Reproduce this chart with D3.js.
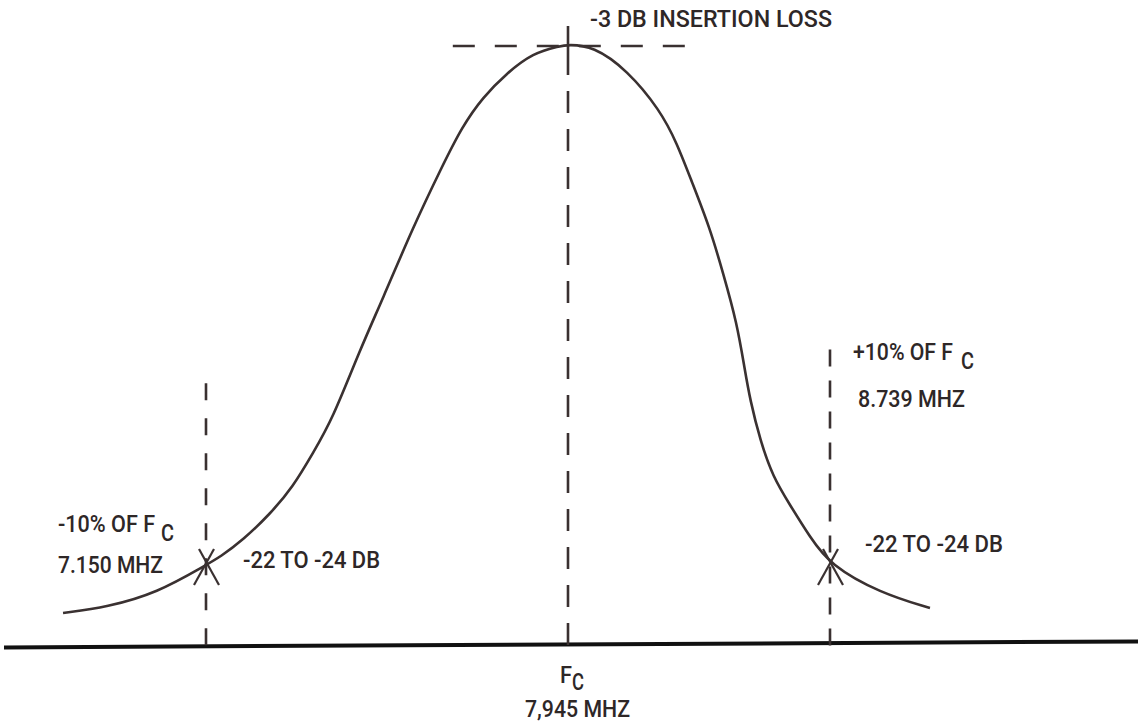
<!DOCTYPE html>
<html>
<head>
<meta charset="utf-8">
<script src="https://cdn.jsdelivr.net/npm/d3@7"></script>
<style>
  html, body { margin: 0; padding: 0; background: #fff; }
  svg text { font-family: Roboto, "DejaVu Sans Condensed", sans-serif; font-weight: 500; fill: #2e2727; }
</style>
</head>
<body>
<div id="graf"></div>
<script>
// frecuencias de referencia (MHz): -10%, Fc, +10%
const marcasFreq = [7.150, 7.945, 8.739]
const picoDb = -3
const bordeDb = -23   // entre -22 y -24 dB
const baseDb = -26.1

// curva de respuesta
const curvaFreq = [6.836, 6.933, 7.042, 7.150, 7.181, 7.231, 7.291, 7.341, 7.385, 7.427, 7.488, 7.537, 7.605, 7.668, 7.712, 7.758, 7.811, 7.868, 7.927, 7.945,
  8.021, 8.124, 8.224, 8.275, 8.318, 8.375, 8.415, 8.457, 8.481, 8.497, 8.527, 8.566, 8.618, 8.678, 8.739, 8.891, 9.042]
const curvaDb = [-24.85, -24.62, -24.08, -23.0, -22.69, -22.04, -21.03, -19.99, -18.68, -17.41, -14.71, -12.79, -9.97, -7.66, -6.12, -4.97, -4.04, -3.27, -3.0, -2.95,
  -3.0, -3.92, -5.47, -6.74, -8.16, -10.01, -11.75, -13.67, -15.49, -16.64, -18.18, -19.61, -20.69, -21.92, -23.0, -24.08, -24.66]

// altura donde empieza cada guia vertical (dB)
const guiaTopDb = [-16.0, -3.27, -14.7]
const insercionFreq = [7.692, 8.300]

const width = 1138, height = 726

const svg = d3.select("#graf").append("svg")
  .attr("width", width)
  .attr("height", height)

const x = d3.scaleLinear().domain(marcasFreq).range([206, 568, 830])
const y = d3.scaleLinear().domain([picoDb, bordeDb]).range([46, 565])

const tinta = "#3a3131"
const yBase = y(baseDb)

// eje horizontal
svg.append("line")
  .attr("x1", 4).attr("x2", width)
  .attr("y1", yBase + 2).attr("y2", yBase - 4)
  .attr("stroke", "#111").attr("stroke-width", 4)

// guias verticales punteadas
const dashes = ["17,18", "22,16", "17,14"]
svg.selectAll("line.guia").data(marcasFreq).enter().append("line")
  .attr("class", "guia")
  .attr("x1", d => x(d)).attr("x2", d => x(d))
  .attr("y1", (d, i) => y(guiaTopDb[i]))
  .attr("y2", yBase)
  .attr("stroke", tinta).attr("stroke-width", 2.6)
  .attr("stroke-dasharray", (d, i) => dashes[i])

// tramo solido sobre el pico
svg.append("line")
  .attr("x1", x(marcasFreq[1])).attr("x2", x(marcasFreq[1]))
  .attr("y1", y(picoDb) - 20).attr("y2", y(guiaTopDb[1]))
  .attr("stroke", tinta).attr("stroke-width", 2.6)

// linea de perdida de insercion
svg.append("line")
  .attr("x1", x(insercionFreq[0])).attr("x2", x(insercionFreq[1]))
  .attr("y1", y(picoDb)).attr("y2", y(picoDb))
  .attr("stroke", tinta).attr("stroke-width", 2.6)
  .attr("stroke-dasharray", "22,20")

// curva
const linea = d3.line()
  .x((d, i) => x(curvaFreq[i]))
  .y(d => y(d))
  .curve(d3.curveBasis)

svg.append("path")
  .datum(curvaDb)
  .attr("d", linea)
  .attr("fill", "none")
  .attr("stroke", tinta)
  .attr("stroke-width", 2.6)

// marcas X en los puntos de -10% / +10%
const bordes = [marcasFreq[0], marcasFreq[2]]
bordes.forEach(f => {
  const cx = x(f), cy = y(bordeDb)
  svg.append("line").attr("x1", cx - 7).attr("y1", cy - 16).attr("x2", cx + 13).attr("y2", cy + 20)
    .attr("stroke", tinta).attr("stroke-width", 2.2)
  svg.append("line").attr("x1", cx + 8).attr("y1", cy - 16).attr("x2", cx - 12).attr("y2", cy + 20)
    .attr("stroke", tinta).attr("stroke-width", 2.2)
})

// textos
const etiquetas = [
  { t: "-3 DB INSERTION LOSS", x: 590, y: 27, w: 242 },
  { t: "-10% OF F", x: 58, y: 532, w: 97 },
  { t: "C", x: 161, y: 541, w: 13 },
  { t: "7.150 MHZ", x: 58, y: 573, w: 105 },
  { t: "-22 TO -24 DB", x: 243, y: 568, w: 137 },
  { t: "+10% OF F", x: 853, y: 360, w: 100 },
  { t: "C", x: 961, y: 369, w: 13 },
  { t: "8.739 MHZ", x: 858, y: 407, w: 107 },
  { t: "-22 TO -24 DB", x: 865, y: 552, w: 138 },
  { t: "F", x: 560, y: 683, w: 12 },
  { t: "C", x: 572, y: 690, w: 12 },
  { t: "7,945 MHZ", x: 525, y: 717, w: 105 }
]

svg.selectAll("text.lbl").data(etiquetas).enter().append("text")
  .attr("class", "lbl")
  .attr("x", d => d.x)
  .attr("y", d => d.y)
  .attr("font-size", 23)
  .attr("textLength", d => d.w)
  .attr("lengthAdjust", "spacingAndGlyphs")
  .text(d => d.t)
</script>
</body>
</html>
